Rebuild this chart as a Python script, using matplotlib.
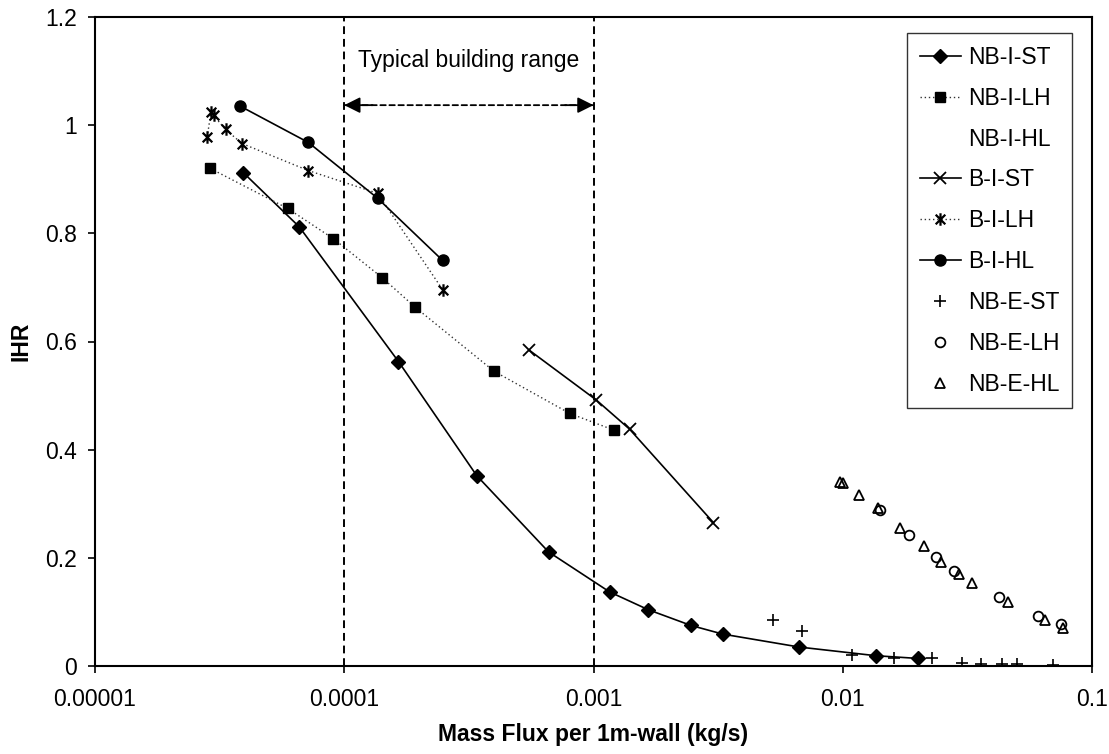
import matplotlib
matplotlib.use("Agg")
import matplotlib.pyplot as plt
from matplotlib.path import Path

plt.rcParams['font.family'] = ['Liberation Sans', 'DejaVu Sans']

# series (x in kg/s, y = IHR)
nb_i_st_x = [3.94e-5, 6.6e-5, 1.65e-4, 3.4e-4, 6.6e-4, 1.16e-3, 1.66e-3, 2.46e-3, 3.3e-3, 6.7e-3, 0.0136, 0.02]
nb_i_st_y = [0.912, 0.812, 0.563, 0.352, 0.211, 0.137, 0.104, 0.075, 0.059, 0.035, 0.019, 0.014]

nb_i_lh_x = [2.9e-5, 5.93e-5, 9.05e-5, 1.42e-4, 1.93e-4, 3.99e-4, 8.03e-4, 1.21e-3]
nb_i_lh_y = [0.920, 0.846, 0.790, 0.718, 0.663, 0.545, 0.467, 0.436]

b_i_st_x = [5.52e-4, 1.025e-3, 1.395e-3, 3.03e-3]
b_i_st_y = [0.584, 0.492, 0.438, 0.265]

b_i_lh_x = [2.82e-5, 2.92e-5, 2.99e-5, 3.34e-5, 3.89e-5, 7.18e-5, 1.36e-4, 2.48e-4]
b_i_lh_y = [0.978, 1.025, 1.018, 0.992, 0.966, 0.916, 0.874, 0.696]

b_i_hl_x = [3.83e-5, 7.18e-5, 1.36e-4, 2.48e-4]
b_i_hl_y = [1.035, 0.968, 0.865, 0.750]

nb_e_st_x = [5.25e-3, 6.85e-3, 0.0109, 0.0161, 0.0229, 0.0302, 0.036, 0.0436, 0.05, 0.0698]
nb_e_st_y = [0.085, 0.065, 0.020, 0.014, 0.014, 0.005, 0.003, 0.003, 0.003, 0.002]

nb_e_lh_x = [0.0141, 0.01845, 0.0236, 0.028, 0.0423, 0.0607, 0.0753]
nb_e_lh_y = [0.288, 0.243, 0.202, 0.176, 0.128, 0.092, 0.078]

nb_e_hl_x = [0.00978, 0.0100, 0.01165, 0.0138, 0.017, 0.0212, 0.0247, 0.0292, 0.0329, 0.0461, 0.065, 0.0766]
nb_e_hl_y = [0.341, 0.338, 0.316, 0.292, 0.256, 0.221, 0.193, 0.171, 0.154, 0.119, 0.085, 0.070]

x_ticks = [1e-5, 1e-4, 1e-3, 1e-2, 1e-1]
x_tick_labels = ['0.00001', '0.0001', '0.001', '0.01', '0.1']
y_ticks = [0, 0.2, 0.4, 0.6, 0.8, 1.0, 1.2]
y_tick_labels = ['0', '0.2', '0.4', '0.6', '0.8', '1', '1.2']

# typical building range
range_lo, range_hi = 1e-4, 1e-3
range_y = 1.037

fs = 16.5

# asterisk marker: an x with a vertical bar through it
star = Path([(-1, -1), (1, 1), (-1, 1), (1, -1), (0, -1.3), (0, 1.3)],
            [Path.MOVETO, Path.LINETO, Path.MOVETO, Path.LINETO, Path.MOVETO, Path.LINETO])

fig = plt.figure(figsize=(11.09, 7.54), dpi=100)
ax = fig.add_axes([95 / 1109, 1 - 666 / 754, 997 / 1109, 649 / 754])

ax.plot(nb_i_st_x, nb_i_st_y, color='k', lw=1.2, marker='D', ms=7.5, label='NB-I-ST')
ax.plot(nb_i_lh_x, nb_i_lh_y, color='#333333', lw=1.0, ls=(0, (1, 2)), marker='s', ms=7,
        mfc='k', mec='k', label='NB-I-LH')
ax.plot([], [], ls='none', label='NB-I-HL')
ax.plot(b_i_st_x, b_i_st_y, color='k', lw=1.2, marker='x', ms=8, mew=1.3, label='B-I-ST')
ax.plot(b_i_lh_x, b_i_lh_y, color='#333333', lw=1.0, ls=(0, (1, 2)), marker=star, ms=9,
        mec='k', mew=1.6, label='B-I-LH')
ax.plot(b_i_hl_x, b_i_hl_y, color='k', lw=1.2, marker='o', ms=8, label='B-I-HL')
ax.plot(nb_e_st_x, nb_e_st_y, ls='none', marker='+', ms=8, mec='k', mew=1.2, label='NB-E-ST')
ax.plot(nb_e_lh_x, nb_e_lh_y, ls='none', marker='o', ms=7, mfc='none', mec='k', mew=1.3,
        label='NB-E-LH')
ax.plot(nb_e_hl_x, nb_e_hl_y, ls='none', marker='^', ms=7, mfc='none', mec='k', mew=1.3,
        label='NB-E-HL')

for xv in [range_lo, range_hi]:
    ax.axvline(xv, color='k', lw=1.4, ls=(0, (4, 2.5)))
# dashed shaft, solid heads at both ends
ax.annotate('', xy=(range_hi, range_y), xytext=(range_lo, range_y),
            arrowprops=dict(arrowstyle='-', color='k', lw=1.3, ls=(0, (3, 2)),
                            shrinkA=0, shrinkB=0))
ax.annotate('', xy=(range_lo, range_y), xytext=(range_lo * 1.3, range_y),
            arrowprops=dict(arrowstyle='-|>', color='k', lw=1.3,
                            shrinkA=0, shrinkB=0, mutation_scale=24))
ax.annotate('', xy=(range_hi, range_y), xytext=(range_hi / 1.3, range_y),
            arrowprops=dict(arrowstyle='-|>', color='k', lw=1.3,
                            shrinkA=0, shrinkB=0, mutation_scale=24))
ax.text((range_lo * range_hi) ** 0.5, 1.12, 'Typical building range',
        ha='center', va='center', fontsize=fs)

ax.set_xscale('log')
ax.set_xlim(1e-5, 0.1)
ax.set_ylim(0, 1.2)
ax.set_xticks(x_ticks)
ax.set_xticklabels(x_tick_labels)
ax.set_yticks(y_ticks)
ax.set_yticklabels(y_tick_labels)
ax.minorticks_off()
ax.tick_params(axis='both', direction='out', length=5, width=1.2, labelsize=fs, colors='k')
ax.tick_params(axis='x', pad=11)
ax.tick_params(axis='y', pad=8)
for sp in ax.spines.values():
    sp.set_linewidth(1.5)
    sp.set_color('k')

ax.set_xlabel('Mass Flux per 1m-wall (kg/s)', fontsize=fs, fontweight='bold')
ax.set_ylabel('IHR', fontsize=fs, fontweight='bold')
ax.xaxis.set_label_coords(0.5, -0.088)
ax.yaxis.set_label_coords(-0.063, 0.5)

leg = ax.legend(loc='upper right', bbox_to_anchor=(0.98, 0.975), borderaxespad=0,
                fontsize=fs, frameon=True, fancybox=False, edgecolor='k', labelspacing=0.78,
                handlelength=1.8, handletextpad=0.3, borderpad=0.55)
leg.get_frame().set_linewidth(1.0)

fig.savefig('out.png', dpi=100)
